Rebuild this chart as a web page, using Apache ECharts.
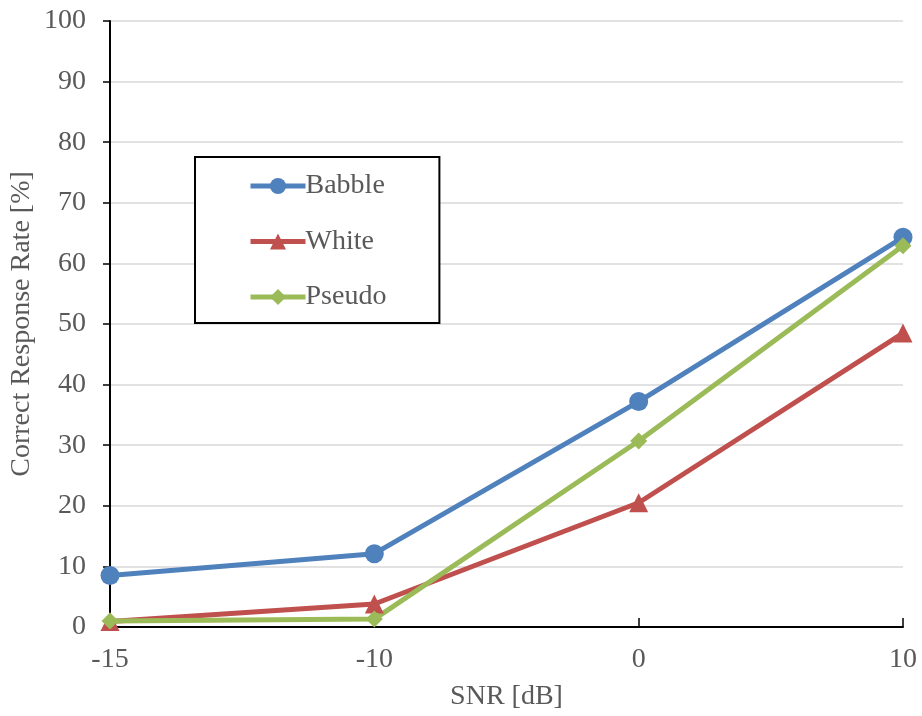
<!DOCTYPE html>
<html>
<head>
<meta charset="utf-8">
<script src="https://cdn.jsdelivr.net/npm/echarts@6/dist/echarts.min.js"></script>
<style>
  html, body { margin: 0; padding: 0; background: #fff; }
  #chart { width: 922px; height: 716px; }
</style>
</head>
<body>
<div id="chart"></div>
<script>
// SNR conditions (dB) and correct response rates (%) per noise type
const snrLabels = ['-15', '-10', '0', '10'];
const babble = [8.5, 12.1, 37.2, 64.3];
const white = [0.9, 3.8, 20.5, 48.5];
const pseudo = [1.0, 1.3, 30.7, 62.9];
const yTicks = [0, 10, 20, 30, 40, 50, 60, 70, 80, 90, 100];

const FONT = '"Liberation Serif", "Times New Roman", serif';
const TEXT = '#595959';
const FS = 28;

const chart = echarts.init(document.getElementById('chart'));

function lineSeries(name, data, color, symbol, size) {
  return {
    name, type: 'line', data,
    symbol, symbolSize: size,
    lineStyle: { color, width: 5 },
    itemStyle: { color },
    emphasis: { disabled: true },
    animation: false,
    z: 3
  };
}

chart.setOption({
  backgroundColor: '#fff',
  animation: false,
  textStyle: { fontFamily: FONT },
  grid: { left: 110, right: 19, top: 21, bottom: 89, containLabel: false, outerBoundsMode: 'none' },
  legend: {
    orient: 'vertical',
    left: 195, top: 157,
    padding: [15, 53, 12, 53],
    itemGap: 27.5,
    itemWidth: 55, itemHeight: 20,
    borderColor: '#000', borderWidth: 2,
    backgroundColor: '#fff',
    lineStyle: { width: 5 },
    textStyle: { fontFamily: FONT, fontSize: FS, color: TEXT, padding: [0, 0, 0, -5] },
    data: ['Babble', 'White', 'Pseudo']
  },
  xAxis: {
    type: 'category',
    data: snrLabels,
    boundaryGap: false,
    name: 'SNR [dB]',
    nameLocation: 'middle',
    nameGap: 56,
    nameMoveOverlap: false,
    nameTextStyle: { fontFamily: FONT, fontSize: FS, color: TEXT },
    axisLine: { lineStyle: { color: '#000', width: 2 } },
    axisTick: { show: true, inside: true, length: 9, lineStyle: { color: '#000', width: 1.5 } },
    axisLabel: { fontFamily: FONT, fontSize: FS, color: TEXT, margin: 19 },
    splitLine: { show: false }
  },
  yAxis: {
    type: 'value',
    min: yTicks[0], max: yTicks[yTicks.length - 1], interval: 10,
    name: 'Correct Response Rate [%]',
    nameLocation: 'middle',
    nameGap: 74,
    nameMoveOverlap: false,
    nameTextStyle: { fontFamily: FONT, fontSize: FS, color: TEXT },
    axisLine: { show: true, lineStyle: { color: '#000', width: 2 } },
    axisTick: { show: true, length: 7, lineStyle: { color: '#000', width: 1.5 } },
    axisLabel: { fontFamily: FONT, fontSize: FS, color: TEXT, margin: 24 },
    splitLine: { show: true, lineStyle: { color: '#d9d9d9', width: 1.5 } }
  },
  series: [
    lineSeries('Babble', babble, '#4F81BD', 'circle', 19),
    lineSeries('White', white, '#C0504D', 'triangle', 19),
    lineSeries('Pseudo', pseudo, '#9BBB59', 'diamond', 17)
  ]
});
</script>
</body>
</html>
